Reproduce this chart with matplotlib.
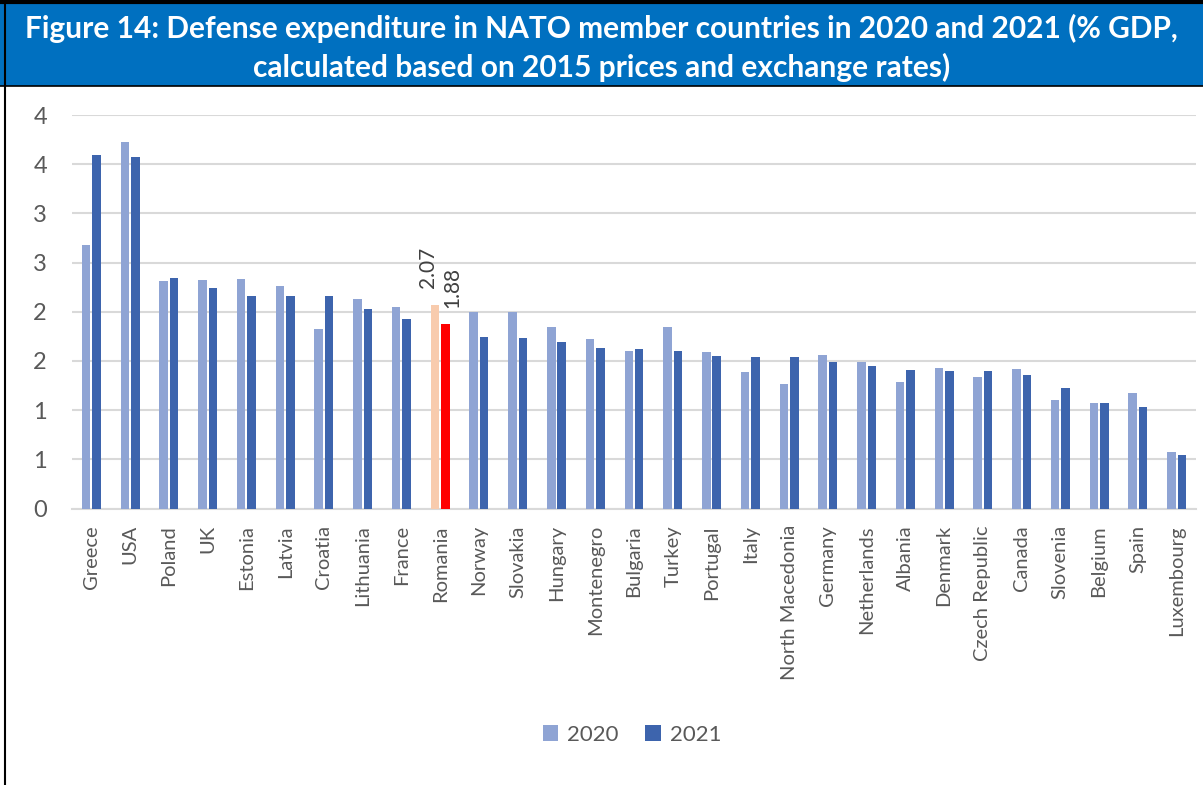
import numpy as np
import matplotlib.pyplot as plt
from matplotlib.patches import Rectangle
from matplotlib.lines import Line2D
from matplotlib.ticker import FuncFormatter, MultipleLocator

plt.rcParams['font.family'] = ['Lato', 'DejaVu Sans']

countries = ['Greece', 'USA', 'Poland', 'UK', 'Estonia', 'Latvia', 'Croatia',
             'Lithuania', 'France', 'Romania', 'Norway', 'Slovakia', 'Hungary',
             'Montenegro', 'Bulgaria', 'Turkey', 'Portugal', 'Italy',
             'North Macedonia', 'Germany', 'Netherlands', 'Albania', 'Denmark',
             'Czech Republic', 'Canada', 'Slovenia', 'Belgium', 'Spain',
             'Luxembourg']
y2020 = [2.68, 3.73, 2.31, 2.32, 2.33, 2.26, 1.82, 2.13, 2.05, 2.07, 2.00,
         2.00, 1.84, 1.72, 1.60, 1.85, 1.59, 1.39, 1.27, 1.56, 1.49, 1.29,
         1.43, 1.34, 1.42, 1.10, 1.07, 1.17, 0.57]
y2021 = [3.59, 3.57, 2.34, 2.24, 2.16, 2.16, 2.16, 2.03, 1.93, 1.88, 1.74,
         1.73, 1.69, 1.63, 1.62, 1.60, 1.55, 1.54, 1.54, 1.49, 1.45, 1.41,
         1.40, 1.40, 1.36, 1.22, 1.07, 1.03, 0.54]
highlight = 'Romania'

c2020 = '#8FA4D4'
c2021 = '#3D64AD'
c2020_hl = '#F8CBAD'
c2021_hl = '#FF0000'
grey = '#595959'

fig = plt.figure(figsize=(12.03, 7.85), dpi=100)

# title banner
fig.patches.append(Rectangle((0, 1 - 86 / 785), 1, 82 / 785, transform=fig.transFigure,
                             facecolor='#0070C0', edgecolor='none', zorder=0))
fig.add_artist(Line2D([0, 1], [1 - 2 / 785] * 2, color='black', lw=3))
fig.add_artist(Line2D([0, 1], [1 - 86 / 785] * 2, color='black', lw=1.2))
fig.add_artist(Line2D([5 / 1203] * 2, [0, 1], color='black', lw=1.5))
fig.text(0.5, 1 - 28 / 785, 'Figure 14: Defense expenditure in NATO member countries in 2020 and 2021 (% GDP,',
         ha='center', va='center', color='white', fontsize=21.5, fontweight='bold')
fig.text(0.5, 1 - 67 / 785, 'calculated based on 2015 prices and exchange rates)',
         ha='center', va='center', color='white', fontsize=21.5, fontweight='bold')

ax = fig.add_axes([72 / 1203, 1 - 508.5 / 785, (1196 - 72) / 1203, (508.5 - 115) / 785])

x = np.arange(len(countries))
w = 0.22
col20 = [c2020_hl if c == highlight else c2020 for c in countries]
col21 = [c2021_hl if c == highlight else c2021 for c in countries]
ax.bar(x - 0.135, y2020, w, color=col20, zorder=3, label='2020')
ax.bar(x + 0.135, y2021, w, color=col21, zorder=3, label='2021')

i = countries.index(highlight)
ax.annotate(f'{y2020[i]:.2f}', (x[i] - 0.135, y2020[i]), xytext=(-5, 12),
            textcoords='offset points', rotation=90, ha='center', va='bottom',
            fontsize=15, color='#404040')
ax.annotate(f'{y2021[i]:.2f}', (x[i] + 0.135, y2021[i]), xytext=(5, 11),
            textcoords='offset points', rotation=90, ha='center', va='bottom',
            fontsize=15, color='#404040')

ax.set_xlim(-0.5, len(countries) - 0.5)
ax.set_ylim(0, 4)
ax.yaxis.set_major_locator(MultipleLocator(0.5))
ax.yaxis.set_major_formatter(FuncFormatter(lambda v, p: '%d' % np.floor(v + 0.5)))
ax.grid(axis='y', color='#D9D9D9', lw=1.5, zorder=0)
ax.set_xticks(x)
ax.set_xticklabels(countries, rotation=90, fontsize=14.5, color=grey)
ax.tick_params(axis='x', length=0, pad=12)
ax.tick_params(axis='y', length=0, pad=18, labelsize=17, labelcolor=grey)
for s in ['top', 'right', 'left']:
    ax.spines[s].set_visible(False)
ax.spines['bottom'].set_color('#D9D9D9')
ax.spines['bottom'].set_linewidth(1.5)

fig.legend(loc='center', bbox_to_anchor=(632 / 1203, 1 - 735 / 785), ncol=2,
           frameon=False, fontsize=16, labelcolor=grey, handlelength=0.7,
           handleheight=0.7, handletextpad=0.4, columnspacing=1.2)

fig.savefig('out.png', dpi=100)
